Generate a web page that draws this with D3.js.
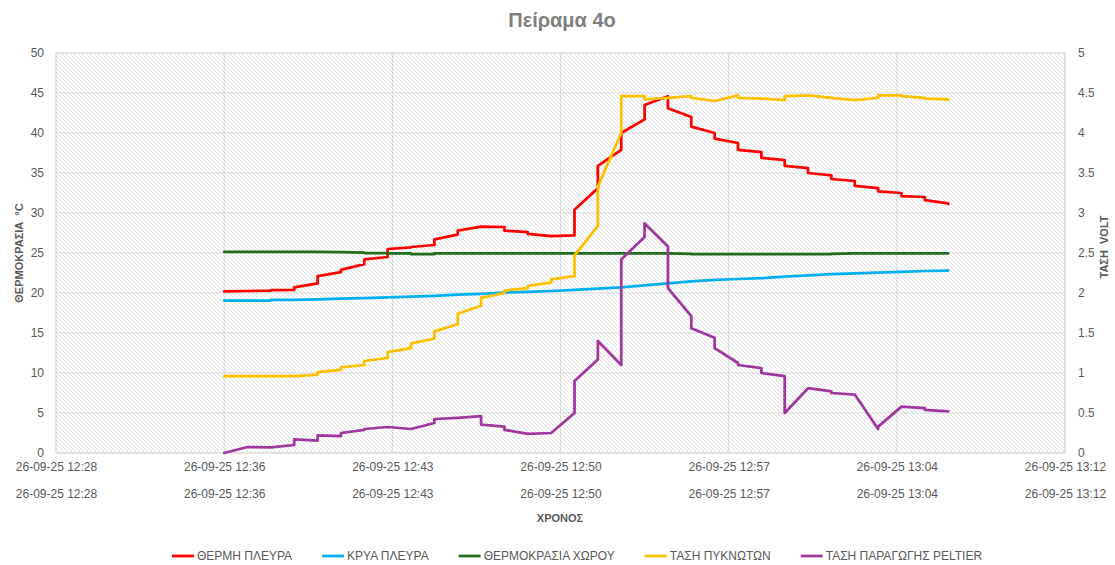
<!DOCTYPE html>
<html>
<head>
<meta charset="utf-8">
<script src="https://cdn.jsdelivr.net/npm/d3@7"></script>
<style>
  body { margin: 0; background: #fff; }
  svg { display: block; font-family: "Liberation Sans", Arial, sans-serif; }
</style>
</head>
<body>
<svg id="chart" width="1115" height="565"></svg>
<script>
// Measurement minutes (two readings are logged under each minute stamp)
const minutes = ["12:36","12:37","12:38","12:39","12:40","12:41","12:42","12:43",
  "12:44","12:45","12:46","12:47","12:48","12:49","12:50","12:51","12:52","12:53",
  "12:54","12:55","12:56","12:57","12:58","12:59","13:00","13:01","13:02","13:03",
  "13:04","13:05","13:06","13:07"];

// Hot side temperature, °C
const hotSide = [[20.2,20.2],[20.25,20.25],[20.3,20.35],[20.4,20.7],[21.2,22.1],[22.6,22.9],
  [23.6,24.2],[24.5,25.5],[25.7,25.75],[26.0,26.7],[27.3,27.8],[28.3,28.3],[28.25,27.8],
  [27.6,27.4],[27.1,27.1],[27.2,30.4],[33.1,35.9],[37.9,40.0],[41.7,43.5],[44.6,43.1],
  [42.0,40.8],[40.0,39.3],[38.75,37.9],[37.6,36.9],[36.6,35.9],[35.6,35.0],[34.7,34.25],
  [34.0,33.4],[33.1,32.7],[32.5,32.1],[32.0,31.6],[31.2,31.1]];

// Cold side temperature, °C
const coldSide = [[19.05,19.05],[19.05,19.05],[19.05,19.15],[19.15,19.15],[19.2,19.2],[19.3,19.3],
  [19.35,19.35],[19.45,19.45],[19.55,19.55],[19.65,19.65],[19.8,19.8],[19.9,19.9],[20.05,20.05],
  [20.15,20.15],[20.25,20.25],[20.4,20.4],[20.55,20.55],[20.7,20.7],[20.95,20.95],[21.2,21.2],
  [21.45,21.45],[21.65,21.65],[21.75,21.75],[21.85,21.85],[22.05,22.05],[22.2,22.2],[22.35,22.35],
  [22.45,22.45],[22.55,22.55],[22.65,22.65],[22.75,22.75],[22.8,22.8]];

// Room temperature, °C
const roomTemp = [[25.15,25.15],[25.15,25.15],[25.15,25.15],[25.15,25.15],[25.15,25.15],[25.1,25.1],
  [25.05,25.0],[25.0,24.95],[24.95,24.85],[24.85,24.95],[24.95,24.95],[24.95,24.95],[24.95,24.95],
  [24.95,24.95],[24.95,24.95],[24.95,24.95],[24.95,24.95],[24.95,24.95],[24.95,24.95],[24.95,24.95],
  [24.9,24.85],[24.85,24.85],[24.85,24.85],[24.85,24.85],[24.85,24.85],[24.85,24.85],[24.85,24.9],
  [24.95,24.95],[24.95,24.95],[24.95,24.95],[24.95,24.95],[24.95,24.95]];

// Capacitor voltage, V
const capVoltage = [[0.96,0.96],[0.96,0.96],[0.96,0.96],[0.96,0.96],[0.98,1.01],[1.04,1.07],
  [1.10,1.15],[1.19,1.26],[1.31,1.37],[1.43,1.52],[1.61,1.74],[1.84,1.94],[2.00,2.03],
  [2.06,2.09],[2.13,2.17],[2.21,2.47],[2.84,3.33],[4.00,4.46],[4.46,4.42],[4.44,4.44],
  [4.46,4.44],[4.40,4.40],[4.47,4.44],[4.43,4.43],[4.41,4.46],[4.47,4.47],[4.44,4.44],
  [4.41,4.41],[4.44,4.47],[4.47,4.46],[4.44,4.43],[4.42,4.41]];

// Peltier generated voltage, V
const peltierVoltage = [[0.00,0.00],[0.075,0.075],[0.07,0.07],[0.10,0.17],[0.155,0.22],[0.21,0.25],
  [0.29,0.30],[0.325,0.325],[0.30,0.30],[0.375,0.425],[0.44,0.44],[0.46,0.355],[0.33,0.29],
  [0.24,0.24],[0.25,0.25],[0.50,0.90],[1.17,1.40],[1.10,2.42],[2.70,2.87],[2.58,2.06],
  [1.71,1.56],[1.44,1.31],[1.125,1.10],[1.06,1.00],[0.96,0.50],[0.81,0.81],[0.77,0.75],
  [0.73,0.73],[0.30,0.33],[0.58,0.58],[0.56,0.54],[0.52,0.52]];

const seriesNames = ["ΘΕΡΜΗ ΠΛΕΥΡΑ", "ΚΡΥΑ ΠΛΕΥΡΑ", "ΘΕΡΜΟΚΡΑΣΙΑ ΧΩΡΟΥ", "ΤΑΣΗ ΠΥΚΝΩΤΩΝ", "ΤΑΣΗ ΠΑΡΑΓΩΓΗΣ PELTIER"];
const tempTicks = [0, 5, 10, 15, 20, 25, 30, 35, 40, 45, 50];
const voltTicks = [0, 0.5, 1, 1.5, 2, 2.5, 3, 3.5, 4, 4.5, 5];
const timeTicks = ["12:28:48", "12:36:00", "12:43:12", "12:50:24", "12:57:36", "13:04:48", "13:12:00"];
const dateStamp = "26-09-25";

const parseTime = d3.timeParse("%d-%m-%y %H:%M:%S");
const fmtTime = d3.timeFormat("%d-%m-%y %H:%M");

// one row per reading
const rows = [];
minutes.forEach((m, i) => {
  for (let k = 0; k < 2; k++) {
    rows.push({
      t: parseTime(dateStamp + " " + m + ":00"),
      hot: hotSide[i][k], cold: coldSide[i][k], room: roomTemp[i][k],
      cap: capVoltage[i][k], pel: peltierVoltage[i][k]
    });
  }
});
const tickDates = timeTicks.map(t => parseTime(dateStamp + " " + t));

const svg = d3.select("#chart");
const plot = { left: 56, right: 1065, top: 53, bottom: 453 };

const x = d3.scaleTime().domain([tickDates[0], tickDates[tickDates.length - 1]]).range([plot.left, plot.right]);
const yL = d3.scaleLinear().domain([0, 50]).range([plot.bottom, plot.top]);
const yR = d3.scaleLinear().domain([0, 5]).range([plot.bottom, plot.top]);

// hatched plot background
const defs = svg.append("defs");
const pat = defs.append("pattern").attr("id", "hatch").attr("patternUnits", "userSpaceOnUse")
  .attr("width", 4).attr("height", 4);
pat.append("rect").attr("width", 4).attr("height", 4).attr("fill", "#ffffff");
pat.append("path").attr("d", "M-1,-1 L5,5 M-1,3 L1,5 M3,-1 L5,1")
  .attr("stroke", "#dedede").attr("stroke-width", 0.9);

svg.append("rect").attr("x", plot.left).attr("y", plot.top)
  .attr("width", plot.right - plot.left).attr("height", plot.bottom - plot.top)
  .attr("fill", "url(#hatch)").attr("stroke", "#d9d9d9").attr("stroke-width", 1);

// gridlines
const grid = svg.append("g").attr("stroke", "#d9d9d9").attr("stroke-width", 1);
grid.selectAll("line.h").data(tempTicks).join("line").attr("class", "h")
  .attr("x1", plot.left).attr("x2", plot.right)
  .attr("y1", d => yL(d)).attr("y2", d => yL(d));
grid.selectAll("line.v").data(tickDates).join("line").attr("class", "v")
  .attr("y1", plot.top).attr("y2", plot.bottom)
  .attr("x1", d => x(d)).attr("x2", d => x(d));

// axes
const tickFont = g => {
  g.select(".domain").remove();
  g.selectAll("text").attr("fill", "#595959").attr("font-size", "12px")
    .attr("font-family", "Liberation Sans, Arial, sans-serif");
};
svg.append("g").attr("transform", `translate(${plot.left},0)`)
  .call(d3.axisLeft(yL).tickValues(tempTicks).tickSize(0).tickPadding(12)).call(tickFont);
svg.append("g").attr("transform", `translate(${plot.right},0)`)
  .call(d3.axisRight(yR).tickValues(voltTicks).tickSize(0).tickPadding(13).tickFormat(d3.format("~g"))).call(tickFont);
svg.append("g").attr("transform", `translate(0,${plot.bottom})`)
  .call(d3.axisBottom(x).tickValues(tickDates).tickSize(0).tickPadding(9).tickFormat(fmtTime)).call(tickFont);
svg.append("g").attr("transform", `translate(0,${plot.bottom + 27})`)
  .call(d3.axisBottom(x).tickValues(tickDates).tickSize(0).tickPadding(9).tickFormat(fmtTime)).call(tickFont);

// titles
svg.append("text").attr("x", 562).attr("y", 27).attr("text-anchor", "middle")
  .attr("font-size", "20px").attr("font-weight", "bold").attr("fill", "#7f7f7f")
  .text("Πείραμα 4ο");
svg.append("text").attr("x", 560).attr("y", 522).attr("text-anchor", "middle")
  .attr("font-size", "11px").attr("font-weight", "bold").attr("fill", "#595959")
  .text("ΧΡΟΝΟΣ");
svg.append("text").attr("transform", "translate(23,253) rotate(-90)").attr("text-anchor", "middle")
  .attr("font-size", "11px").attr("font-weight", "bold").attr("fill", "#595959")
  .attr("xml:space", "preserve").text("ΘΕΡΜΟΚΡΑΣΙΑ  °C");
svg.append("text").attr("transform", "translate(1108,247) rotate(-90)").attr("text-anchor", "middle")
  .attr("font-size", "11px").attr("font-weight", "bold").attr("fill", "#595959")
  .attr("xml:space", "preserve").text("ΤΑΣΗ  VOLT");

// series lines
const colors = ["#ff0000", "#00b0f0", "#1e6e1e", "#ffc000", "#a0379f"];
const series = [
  { key: "hot", y: yL }, { key: "cold", y: yL }, { key: "room", y: yL },
  { key: "cap", y: yR }, { key: "pel", y: yR }
];
series.forEach((s, i) => {
  const line = d3.line().x(d => x(d.t)).y(d => s.y(d[s.key]));
  svg.append("path").datum(rows).attr("d", line)
    .attr("fill", "none").attr("stroke", colors[i]).attr("stroke-width", 2.75)
    .attr("stroke-linejoin", "round").attr("stroke-linecap", "round");
});

// legend
const legend = svg.append("g").attr("transform", "translate(0,556)");
const items = legend.selectAll("g").data(seriesNames).join("g");
items.append("line").attr("x1", 0).attr("x2", 22).attr("y1", 0).attr("y2", 0)
  .attr("stroke", (d, i) => colors[i]).attr("stroke-width", 2.75);
items.append("text").attr("x", 25).attr("y", 4).attr("font-size", "12px")
  .attr("fill", "#595959").text(d => d);
let widths = [];
items.each(function () { widths.push(25 + this.querySelector("text").getComputedTextLength()); });
const gap = 30;
const total = d3.sum(widths) + gap * (widths.length - 1);
let cx = 577 - total / 2;
items.each(function (d, i) {
  d3.select(this).attr("transform", `translate(${cx},0)`);
  cx += widths[i] + gap;
});
</script>
</body>
</html>
